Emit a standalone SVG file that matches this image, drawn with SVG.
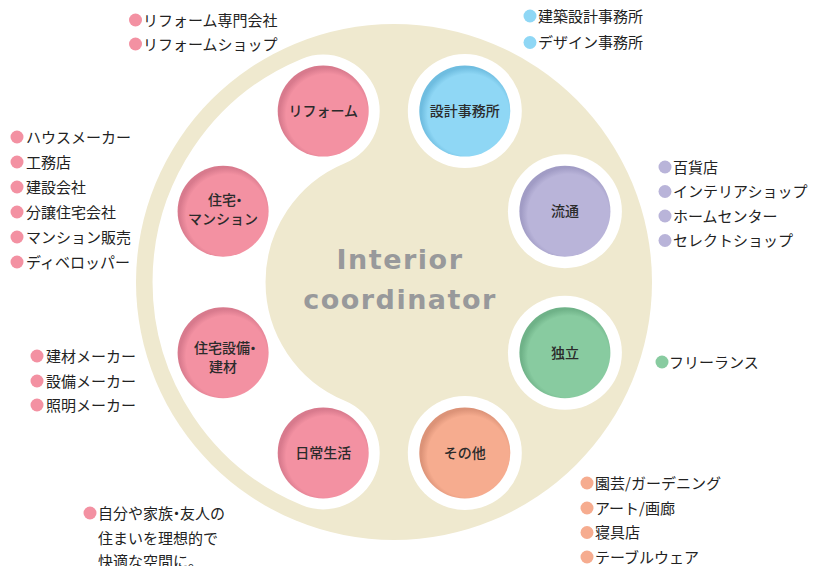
<svg xmlns="http://www.w3.org/2000/svg" width="814" height="566" viewBox="0 0 814 566">
<defs>
<style>
.lbl{font-family:"Noto Sans CJK JP","Noto Sans",sans-serif;font-size:14px;font-weight:500;fill:#2b2b2b;text-anchor:middle}
.li{font-family:"Noto Sans CJK JP","Noto Sans",sans-serif;font-size:15px;fill:#222}
.ttl{font-family:"DejaVu Sans",sans-serif;font-size:27px;font-weight:bold;fill:#98999b;text-anchor:middle;letter-spacing:1.5px}
.ring{fill:#fff}
.pk{fill:#f391a2}.bl{fill:#8fd7f5}.pu{fill:#b9b4d9}.gr{fill:#88cba0}.or{fill:#f6ac8f}
</style>
<radialGradient id="gPk" cx="0.54" cy="0.54" r="0.52"><stop offset="0" stop-color="#f391a2"/><stop offset="0.86" stop-color="#f391a2"/><stop offset="1" stop-color="#d87a8d"/></radialGradient>
<radialGradient id="gBl" cx="0.54" cy="0.54" r="0.52"><stop offset="0" stop-color="#8fd7f5"/><stop offset="0.86" stop-color="#8fd7f5"/><stop offset="1" stop-color="#6fbde0"/></radialGradient>
<radialGradient id="gPu" cx="0.54" cy="0.54" r="0.52"><stop offset="0" stop-color="#b9b4d9"/><stop offset="0.86" stop-color="#b9b4d9"/><stop offset="1" stop-color="#a19cc5"/></radialGradient>
<radialGradient id="gGr" cx="0.54" cy="0.54" r="0.52"><stop offset="0" stop-color="#88cba0"/><stop offset="0.86" stop-color="#88cba0"/><stop offset="1" stop-color="#6fb288"/></radialGradient>
<radialGradient id="gOr" cx="0.54" cy="0.54" r="0.52"><stop offset="0" stop-color="#f6ac8f"/><stop offset="0.86" stop-color="#f6ac8f"/><stop offset="1" stop-color="#dc9378"/></radialGradient>
</defs>
<rect width="814" height="566" fill="#fff"/>
<g id="background">
<circle cx="394" cy="282" r="258" fill="#efe9cf"/>
<path d="M323.2 111.1 A185 185 0 0 0 323.2 452.9" fill="none" stroke="#fff" stroke-width="113" stroke-linecap="round"/>
<circle class="ring" cx="464.8" cy="111.1" r="57"/>
<circle class="ring" cx="564.9" cy="211.2" r="57"/>
<circle class="ring" cx="564.9" cy="352.8" r="57"/>
<circle class="ring" cx="464.8" cy="452.9" r="57"/>
</g>
<g id="center">
<text class="ttl" x="400" y="269">Interior</text>
<text class="ttl" x="400" y="309">coordinator</text>
</g>
<g id="connectors"></g>
<g id="node-reform">
<circle cx="323.2" cy="111.1" r="45.5" fill="url(#gPk)"/>
<text class="lbl" x="323.2" y="116">リフォーム</text>
</g>
<g id="node-sekkei">
<circle cx="464.8" cy="111.1" r="45.5" fill="url(#gBl)"/>
<text class="lbl" x="464.8" y="116">設計事務所</text>
</g>
<g id="node-ryutsu">
<circle cx="564.9" cy="211.2" r="45.5" fill="url(#gPu)"/>
<text class="lbl" x="564.9" y="216">流通</text>
</g>
<g id="node-dokuritsu">
<circle cx="564.9" cy="352.8" r="45.5" fill="url(#gGr)"/>
<text class="lbl" x="564.9" y="358">独立</text>
</g>
<g id="node-sonota">
<circle cx="464.8" cy="452.9" r="45.5" fill="url(#gOr)"/>
<text class="lbl" x="464.8" y="458">その他</text>
</g>
<g id="node-nichijo">
<circle cx="323.2" cy="452.9" r="45.5" fill="url(#gPk)"/>
<text class="lbl" x="323.2" y="458">日常生活</text>
</g>
<g id="node-setsubi">
<circle cx="223.1" cy="352.8" r="45.5" fill="url(#gPk)"/>
<text class="lbl" x="227" y="353">住宅設備<tspan dx="-4">・</tspan></text>
<text class="lbl" x="223.1" y="372">建材</text>
</g>
<g id="node-jutaku">
<circle cx="223.1" cy="211.2" r="45.5" fill="url(#gPk)"/>
<text class="lbl" x="227" y="205">住宅<tspan dx="-4">・</tspan></text>
<text class="lbl" x="223.1" y="224">マンション</text>
</g>
<g id="list-reform">
<circle class="pk" cx="135.5" cy="20" r="6.5"/><text class="li" x="143" y="25.5">リフォーム専門会社</text>
<circle class="pk" cx="135.5" cy="44" r="6.5"/><text class="li" x="143" y="49.5">リフォームショップ</text>
</g>
<g id="list-sekkei">
<circle class="bl" cx="530" cy="16" r="6.5"/><text class="li" x="538" y="21.5">建築設計事務所</text>
<circle class="bl" cx="530" cy="42.5" r="6.5"/><text class="li" x="538" y="48">デザイン事務所</text>
</g>
<g id="list-jutaku">
<circle class="pk" cx="17" cy="137" r="6.5"/><text class="li" x="26" y="142.5">ハウスメーカー</text>
<circle class="pk" cx="17" cy="162" r="6.5"/><text class="li" x="26" y="167.5">工務店</text>
<circle class="pk" cx="17" cy="187" r="6.5"/><text class="li" x="26" y="192.5">建設会社</text>
<circle class="pk" cx="17" cy="212" r="6.5"/><text class="li" x="26" y="217.5">分譲住宅会社</text>
<circle class="pk" cx="17" cy="237" r="6.5"/><text class="li" x="26" y="242.5">マンション販売</text>
<circle class="pk" cx="17" cy="262" r="6.5"/><text class="li" x="26" y="267.5">ディベロッパー</text>
</g>
<g id="list-setsubi">
<circle class="pk" cx="37" cy="356" r="6.5"/><text class="li" x="46" y="361.5">建材メーカー</text>
<circle class="pk" cx="37" cy="381" r="6.5"/><text class="li" x="46" y="386.5">設備メーカー</text>
<circle class="pk" cx="37" cy="405" r="6.5"/><text class="li" x="46" y="410.5">照明メーカー</text>
</g>
<g id="list-ryutsu">
<circle class="pu" cx="665" cy="167" r="6.5"/><text class="li" x="673" y="172.5">百貨店</text>
<circle class="pu" cx="665" cy="191.5" r="6.5"/><text class="li" x="673" y="197">インテリアショップ</text>
<circle class="pu" cx="665" cy="216" r="6.5"/><text class="li" x="673" y="221.5">ホームセンター</text>
<circle class="pu" cx="665" cy="240.5" r="6.5"/><text class="li" x="673" y="246">セレクトショップ</text>
</g>
<g id="list-dokuritsu">
<circle class="gr" cx="662" cy="362" r="6.5"/><text class="li" x="669" y="367.5">フリーランス</text>
</g>
<g id="list-sonota">
<circle class="or" cx="587" cy="483" r="6.5"/><text class="li" x="595" y="488.5">園芸/ガーデニング</text>
<circle class="or" cx="587" cy="508" r="6.5"/><text class="li" x="595" y="513.5">アート/画廊</text>
<circle class="or" cx="587" cy="532.5" r="6.5"/><text class="li" x="595" y="538">寝具店</text>
<circle class="or" cx="587" cy="557" r="6.5"/><text class="li" x="595" y="562.5">テーブルウェア</text>
</g>
<g id="list-nichijo">
<circle class="pk" cx="90" cy="513" r="6.5"/><text class="li" x="98" y="518.5">自分や家族<tspan dx="-4">・</tspan><tspan dx="-4">友人の</tspan></text>
<text class="li" x="98" y="543.5">住まいを理想的で</text>
<text class="li" x="98" y="566.5">快適な空間に。</text>
</g>
</svg>
